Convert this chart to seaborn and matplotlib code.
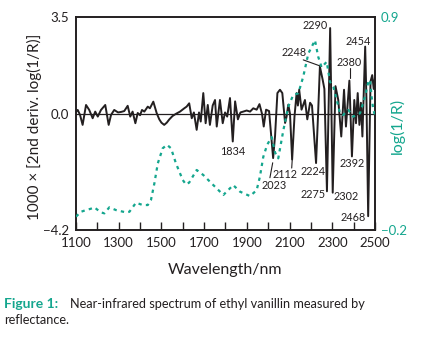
import matplotlib
matplotlib.use("Agg")
import matplotlib.pyplot as plt
import seaborn as sns
import pandas as pd
from matplotlib.ticker import MultipleLocator, FixedLocator

TEAL = "#14a68e"
INK = "#231f20"

# Second-derivative spectrum: wavelength (nm) and 1000 x d2 log(1/R)
deriv_wavelength = [
    1100, 1108, 1119, 1131, 1147, 1162, 1178, 1190, 1202, 1217, 1237, 1253,
    1264, 1279, 1297, 1312, 1326, 1342, 1354, 1365, 1378, 1389, 1400, 1409,
    1420, 1436, 1446, 1462, 1478, 1490, 1500, 1513, 1525, 1537, 1552, 1568,
    1587, 1607, 1618, 1630, 1642, 1652, 1665, 1676, 1684, 1696, 1707, 1717,
    1727, 1740, 1751, 1759, 1774, 1787, 1798, 1808, 1821, 1834, 1845, 1858,
    1870, 1883, 1899, 1915, 1930, 1946, 1959, 1971, 1979, 1990, 2004, 2023,
    2032, 2043, 2055, 2066, 2079, 2086, 2094, 2102, 2112, 2123, 2133, 2139,
    2145, 2156, 2172, 2183, 2196, 2205, 2224, 2233, 2242, 2255, 2263, 2275,
    2290, 2302, 2315, 2328, 2342, 2355, 2364, 2380, 2392, 2403, 2411, 2419,
    2427, 2434, 2441, 2454, 2460, 2468, 2479, 2487, 2494, 2500,
]
deriv_value = [
    0.07, 0.14, -0.04, -0.40, 0.32, 0.14, -0.16, 0.08, -0.10, 0.14, 0.32, -0.40,
    -0.04, 0.14, 0.05, 0.07, 0.10, 0.29, -0.10, 0.08, -0.34, 0.03, -0.05, 0.14,
    0.08, 0.26, 0.20, 0.44, 0.02, -0.20, -0.32, -0.40, -0.32, -0.20, -0.08, 0.00,
    0.08, 0.20, 0.26, 0.38, -0.16, 0.05, -0.58, 0.05, -0.28, 0.75, -0.34, 0.32,
    -0.40, 0.30, 0.50, -0.46, 0.50, -0.34, 0.05, -0.10, 0.57, -1.00, 0.45, -0.20,
    0.05, 0.08, 0.12, 0.08, 0.20, 0.15, 0.35, 0.00, -0.46, 0.15, 0.10, -1.60,
    -0.80, 0.75, 0.87, 0.75, -0.33, -0.10, 0.33, 0.00, -1.65, -0.10, 0.75, 0.30,
    0.87, 0.15, 0.50, -0.20, 0.40, 0.30, -1.78, -0.10, 1.71, 1.23, 0.90, -2.80,
    3.10, -2.85, 1.00, 0.50, -0.82, 0.87, -0.46, 1.20, -1.54, 0.50, -0.34, 0.75,
    -0.40, 0.40, -0.82, 2.43, 0.50, -3.70, 1.17, 1.40, 0.90, 1.30,
]

# Reflectance spectrum log(1/R)
abs_wavelength = [
    1100, 1123, 1147, 1170, 1186, 1200, 1217, 1233, 1256, 1287, 1334, 1350,
    1381, 1412, 1436, 1451, 1467, 1483, 1506, 1526, 1545, 1568, 1600, 1615,
    1630, 1665, 1696, 1743, 1790, 1836, 1868, 1915, 1946, 1961, 1977, 1995,
    2016, 2032, 2047, 2071, 2094, 2117, 2141, 2164, 2188, 2219, 2234, 2250,
    2274, 2289, 2305, 2321, 2336, 2351, 2375, 2398, 2430, 2453, 2469, 2477,
    2484, 2492, 2500,
]
abs_value = [
    -0.131, -0.106, -0.097, -0.090, -0.083, -0.095, -0.109, -0.114, -0.083, -0.097, -0.109, -0.106,
    -0.059, -0.071, -0.071, -0.045, 0.041, 0.144, 0.222, 0.240, 0.222, 0.144, 0.058, 0.035,
    0.045, 0.110, 0.084, 0.032, -0.019, 0.032, -0.002, -0.025, 0.006, 0.075, 0.178, 0.240,
    0.280, 0.200, 0.170, 0.316, 0.437, 0.497, 0.506, 0.592, 0.712, 0.780, 0.695, 0.640,
    0.669, 0.566, 0.540, 0.471, 0.403, 0.394, 0.420, 0.385, 0.403, 0.488, 0.566, 0.575,
    0.488, 0.420, 0.394,
]

x_ticks = [1100, 1300, 1500, 1700, 1900, 2100, 2300, 2500]
left_ticks = [-4.2, 0.0, 3.5]
left_tick_labels = ["\u22124.2", "0.0", "3.5"]
right_ticks = [-0.2, 0.9]
right_tick_labels = ["\u22120.2", "0.9"]

# Band labels: text, position (wavelength, left-axis value)
band_labels = [
    ("2290", 2219, 3.18), ("2454", 2420, 2.60), ("2248", 2121, 2.20),
    ("2380", 2378, 1.84), ("1834", 1834, -1.36), ("2392", 2394, -1.81),
    ("2224", 2208, -2.08), ("2112", 2079, -2.20), ("2023", 2027, -2.59),
    ("2275", 2211, -2.92), ("2302", 2363, -2.99), ("2468", 2398, -3.73),
]
# Leader lines from labels to bands
leaders = [
    ((2164, 2250), (1.95, 1.71)),
    ((2383, 2383), (1.66, 1.30)),
    ((2110, 2113), (-1.96, -1.59)),
    ((2008, 2021), (-2.31, -1.77)),
]

sns.set_theme(style="white")
plt.rcParams["font.family"] = ["Lato", "DejaVu Sans"]

deriv_df = pd.DataFrame({"wavelength": deriv_wavelength, "d2": deriv_value})
abs_df = pd.DataFrame({"wavelength": abs_wavelength, "logR": abs_value})

fig = plt.figure(figsize=(4.36, 3.40), dpi=100)
ax = fig.add_axes([0.1743, 0.3235, 0.6858, 0.6265])

ax.axhline(0, color=INK, lw=0.9, zorder=1)
sns.lineplot(data=deriv_df, x="wavelength", y="d2", ax=ax, color=INK,
             lw=1.4, estimator=None, zorder=2)
ax.set_xlim(1100, 2500)
ax.set_ylim(-4.2, 3.5)

ax2 = ax.twinx()
sns.lineplot(data=abs_df, x="wavelength", y="logR", ax=ax2, color=TEAL,
             lw=1.6, linestyle=(0, (1.5, 1.9)), estimator=None, zorder=3)
ax2.set_ylim(-0.2, 0.9)

# Axis ticks
ax.xaxis.set_major_locator(FixedLocator(x_ticks))
ax.xaxis.set_minor_locator(MultipleLocator(100))
ax.set_xticklabels([str(t) for t in x_ticks])
ax.tick_params(axis="x", which="both", direction="in", length=6, width=1,
               color=INK, bottom=True, top=False, labelsize=9.5,
               labelcolor=INK, pad=5)
ax.set_yticks(left_ticks)
ax.set_yticklabels(left_tick_labels)
ax.tick_params(axis="y", length=0, labelsize=9.5, labelcolor=INK, pad=5)
ax2.set_yticks(right_ticks)
ax2.set_yticklabels(right_tick_labels)
ax2.tick_params(axis="y", length=0, labelsize=9.5, labelcolor=TEAL, pad=4)

for a in (ax, ax2):
    for sp in a.spines.values():
        sp.set_color(INK)
        sp.set_linewidth(1.2)
        sp.set_visible(True)

ax.set_xlabel("Wavelength/nm", fontsize=11.5, color=INK)
ax.xaxis.set_label_coords(0.5, -0.155)
ax.set_ylabel("1000 \u00d7 [2nd deriv. log(1/R)]", fontsize=11, color=INK)
ax.yaxis.set_label_coords(-0.114, 0.484)
ax2.set_ylabel("log(1/R)", fontsize=11.5, color=TEAL, rotation=90)
ax2.yaxis.set_label_coords(1.05, 0.49)

for text, wl, val in band_labels:
    ax.text(wl, val, text, fontsize=7.8, color=INK, ha="center", va="center",
            zorder=5)
for xs, ys in leaders:
    ax.plot(xs, ys, color=INK, lw=0.8, zorder=4)

fig.text(4 / 436, 1 - 304 / 340, "Figure 1:", fontsize=10, fontweight="bold",
         color=TEAL, ha="left", va="center")
fig.text(70 / 436, 1 - 304 / 340,
         "Near-infrared spectrum of ethyl vanillin measured by",
         fontsize=9.2, color=INK, ha="left", va="center")
fig.text(4 / 436, 1 - 320 / 340, "reflectance.", fontsize=9.2, color=INK,
         ha="left", va="center")

fig.savefig("out.png", dpi=100)
